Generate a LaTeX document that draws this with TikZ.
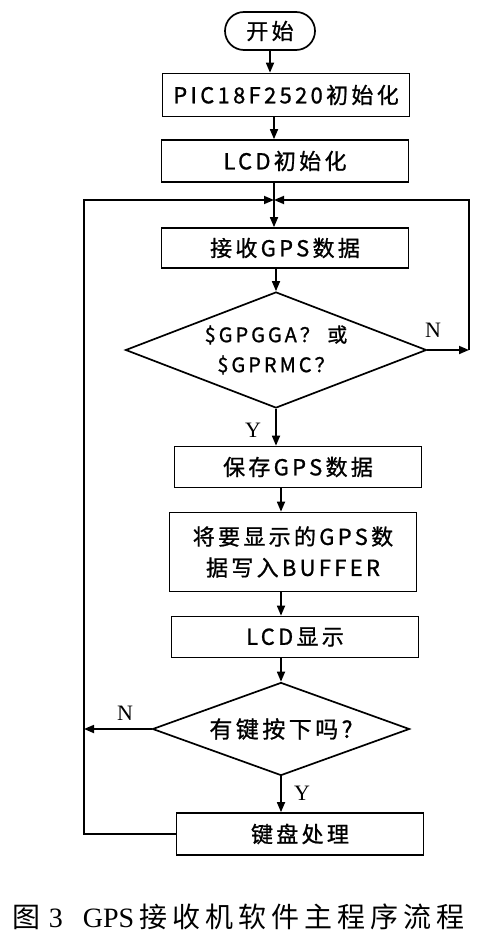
\documentclass[tikz,border=0pt]{standalone}
\usepackage{fontspec}
\newfontfamily\cjk[LetterSpace=15,FakeBold=1]{Noto Sans CJK SC}
\newfontfamily\capfont[LetterSpace=18]{Noto Sans CJK SC}
\newfontfamily\capserif{Liberation Serif}
\usetikzlibrary{arrows.meta,shapes.geometric}

\begin{document}
\begin{tikzpicture}[x=1pt,y=-1pt,line width=1.7pt,
  box/.style={draw,rectangle,minimum width=247pt,minimum height=42pt,inner sep=0pt,
    align=center,font=\cjk\fontsize{22}{31}\selectfont},
  decide/.style={draw,diamond,inner sep=0pt,align=center,font=\cjk\fontsize{20}{30}\selectfont},
  arr/.style={-{Triangle[length=10pt,width=8pt]}},
  yn/.style={font=\capserif\fontsize{22}{22}\selectfont}]

\useasboundingbox (0,0) rectangle (491,944);

% main column
\node[box,rounded corners=19pt,minimum width=90pt,minimum height=38pt] (start) at (270,31) {开始};
\node[box,minimum height=43pt] (pic) at (286,95) {PIC18F2520初始化};
\node[box] (lcdinit) at (285,161) {LCD初始化};
\node[box,minimum height=40pt] (recv) at (285,248) {接收GPS数据};
\node[decide,shape aspect=2.6,minimum width=301pt,minimum height=116pt] (gps) at (276,350) {\$GPGGA？ 或\\\$GPRMC？};
\node[box,minimum height=41pt] (save) at (298,467) {保存GPS数据};
\node[box,minimum height=79pt] (buf) at (293,552) {将要显示的GPS数\\据写入BUFFER};
\node[box,minimum height=41pt] (show) at (295,637) {LCD显示};
\node[decide,shape aspect=2.76,minimum width=257pt,minimum height=93pt,
  font=\cjk\fontsize{23}{23}\selectfont] (key) at (281,729) {有键按下吗?};
\node[box] (proc) at (300,834) {键盘处理};

% loop corners
\coordinate (j) at (274,200);
\coordinate (lft) at (84,200);
\coordinate (rgt) at (469,200);

\draw[arr] (start.south) -- (start.south |- pic.north);
\draw[arr] (pic.south -| j) -- (lcdinit.north -| j);
\draw[arr] (lcdinit.south -| j) -- (recv.north -| j);
\draw[arr] (recv.south -| gps) -- (gps.north);
\draw[arr] (gps.south) -- (gps.south |- save.north);
\draw[arr] (save.south -| key) -- (buf.north -| key);
\draw[arr] (buf.south -| key) -- (show.north -| key);
\draw[arr] (show.south -| key) -- (key.north);
\draw[arr] (key.south) -- (key.south |- proc.north);

% N branches
\draw[arr] (gps.east) -- (gps.east -| rgt);
\draw[arr] (gps.east -| rgt) -- (rgt) -- (j);
\draw[arr] (key.west) -- (key.west -| lft);
\draw[arr] (proc.west) -- (proc.west -| lft) -- (lft) -- (j);

\node[yn] (n1) at (433,330) {N};
\node[yn] (y1) at (253,430) {Y};
\node[yn] (n2) at (125,713) {N};
\node[yn] (y2) at (302,793) {Y};

\node[anchor=west,inner sep=0pt,font=\capfont\fontsize{28}{28}\selectfont] (cap) at (12,917)
  {图\hspace{8pt}{\capserif 3}\hspace{20pt}{\capserif GPS}\hspace{5pt}接收机软件主程序流程};
\end{tikzpicture}
\end{document}
